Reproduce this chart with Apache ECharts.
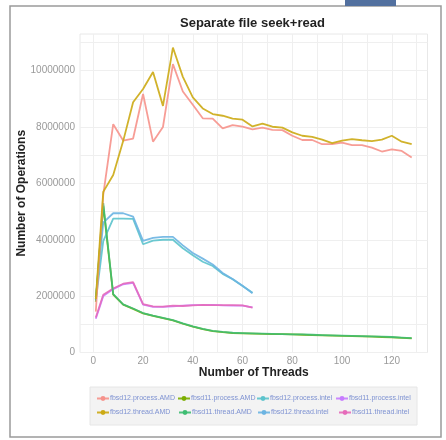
<!DOCTYPE html>
<html>
<head>
<meta charset="utf-8">
<script src="https://cdn.jsdelivr.net/npm/echarts@6/dist/echarts.min.js"></script>
<style>
html, body { margin: 0; padding: 0; background: #ffffff; }
#chart { width: 446px; height: 440px; }
</style>
</head>
<body>
<div id="chart"></div>
<script>
// Thread counts measured
const threadsAMD = [1, 4, 8, 12, 16, 20, 24, 28, 32, 36, 40, 44, 48, 52, 56, 60, 64,
  68, 72, 76, 80, 84, 88, 92, 96, 100, 104, 108, 112, 116, 120, 124, 128];
const threadsIntel = [1, 4, 8, 12, 16, 20, 24, 28, 32, 36, 40, 44, 48, 52, 56, 60, 64];

// Operations per configuration
const fbsd12ProcessAMD = [1450000, 5600000, 8100000, 7520000, 7590000, 9170000, 7480000, 8000000,
  10230000, 9260000, 8790000, 8310000, 8300000, 7950000, 8070000, 8010000, 7920000,
  7980000, 7900000, 7890000, 7690000, 7540000, 7540000, 7390000, 7390000, 7450000,
  7360000, 7360000, 7270000, 7130000, 7210000, 7150000, 6920000];
const fbsd11ProcessAMD = [1800000, 5200000, 2050000, 1700000, 1550000, 1390000, 1300000, 1220000,
  1140000, 1020000, 920000, 830000, 760000, 720000, 690000, 680000, 670000,
  660000, 650000, 650000, 640000, 630000, 620000, 610000, 600000, 590000,
  580000, 570000, 560000, 550000, 540000, 520000, 500000];
const fbsd12ProcessIntel = [1850000, 3950000, 4750000, 4750000, 4740000, 3840000, 3970000, 4000000,
  4000000, 3700000, 3450000, 3220000, 3070000, 2790000, 2600000, 2360000, 2120000];
const fbsd11ProcessIntel = [1200000, 2000000, 2250000, 2420000, 2470000, 1700000, 1620000, 1620000,
  1640000, 1660000, 1680000, 1680000, 1690000, 1670000, 1660000, 1660000, 1600000];
const fbsd12ThreadAMD = [1900000, 5700000, 6300000, 7500000, 8880000, 9350000, 9950000, 8750000,
  10820000, 9780000, 9050000, 8660000, 8460000, 8400000, 8300000, 8260000, 8020000,
  8120000, 8010000, 7980000, 7810000, 7690000, 7650000, 7550000, 7430000, 7520000,
  7570000, 7530000, 7500000, 7550000, 7690000, 7480000, 7390000];
const fbsd11ThreadAMD = [1850000, 5300000, 2070000, 1710000, 1560000, 1400000, 1310000, 1230000,
  1150000, 1030000, 930000, 840000, 770000, 730000, 700000, 690000, 680000,
  670000, 660000, 650000, 640000, 640000, 630000, 620000, 610000, 600000,
  590000, 580000, 570000, 560000, 550000, 530000, 510000];
const fbsd12ThreadIntel = [1900000, 4610000, 4940000, 4940000, 4820000, 3960000, 4070000, 4100000,
  4100000, 3800000, 3530000, 3330000, 3120000, 2820000, 2610000, 2370000, 2100000];
const fbsd11ThreadIntel = [1240000, 2050000, 2270000, 2440000, 2500000, 1720000, 1640000, 1630000,
  1660000, 1650000, 1670000, 1690000, 1680000, 1680000, 1680000, 1670000, 1590000];

// Axis ticks
const xTickLabels = [0, 20, 40, 60, 80, 100, 120];
const xGridValues = [0, 10, 20, 30, 40, 50, 60, 70, 80, 90, 100, 110, 120, 130];
const yTickLabels = [0, 2000000, 4000000, 6000000, 8000000, 10000000];
const yGridValues = [0, 1000000, 2000000, 3000000, 4000000, 5000000, 6000000,
  7000000, 8000000, 9000000, 10000000, 11000000];

const seriesDefs = [
  { name: 'fbsd11.process.AMD', color: '#7CAE00', x: threadsAMD, y: fbsd11ProcessAMD },
  { name: 'fbsd11.process.intel', color: '#C77CFF', x: threadsIntel, y: fbsd11ProcessIntel },
  { name: 'fbsd12.process.intel', color: '#5cc3cc', x: threadsIntel, y: fbsd12ProcessIntel },
  { name: 'fbsd12.thread.intel', color: '#6cb4e2', x: threadsIntel, y: fbsd12ThreadIntel },
  { name: 'fbsd11.thread.intel', color: '#e66bba', x: threadsIntel, y: fbsd11ThreadIntel },
  { name: 'fbsd11.thread.AMD', color: '#3ebd72', x: threadsAMD, y: fbsd11ThreadAMD },
  { name: 'fbsd12.process.AMD', color: '#f6928b', x: threadsAMD, y: fbsd12ProcessAMD },
  { name: 'fbsd12.thread.AMD', color: '#ccaa14', x: threadsAMD, y: fbsd12ThreadAMD }
];

// Legend entries laid out as a 4 x 2 table
const legendRows = [
  ['fbsd12.process.AMD', 'fbsd11.process.AMD', 'fbsd12.process.intel', 'fbsd11.process.intel'],
  ['fbsd12.thread.AMD', 'fbsd11.thread.AMD', 'fbsd12.thread.intel', 'fbsd11.thread.intel']
];
const legendCols = [[96, 177, 256, 335], [96, 178, 257, 338]];
const legendTops = [395, 409];

const fontFamily = 'Liberation Sans, Arial, sans-serif';

const legends = [];
legendRows.forEach((row, r) => {
  row.forEach((name, c) => {
    legends.push({
      data: [name],
      left: legendCols[r][c],
      top: legendTops[r],
      padding: 0,
      itemWidth: 12,
      itemHeight: 6,
      itemGap: 0,
      textStyle: {
        fontSize: 7, color: '#7e92d2', padding: [0, 0, 0, -4],
        fontFamily: fontFamily
      }
    });
  });
});

const chart = echarts.init(document.getElementById('chart'), null, { renderer: 'canvas' });

chart.setOption({
  backgroundColor: '#ffffff',
  animation: false,
  title: {
    text: 'Separate file seek+read',
    left: 180,
    top: 17,
    padding: 0,
    textStyle: { fontSize: 13, fontWeight: 'bold', color: '#222222', fontFamily: fontFamily }
  },
  graphic: [
    { type: 'rect', shape: { x: 10, y: 6, width: 431, height: 431 }, style: { fill: 'none', stroke: '#9a9a9a', lineWidth: 1.5 }, z: -10 },
    { type: 'rect', shape: { x: 345, y: 0, width: 51, height: 6 }, style: { fill: '#52709f' } },
    { type: 'rect', shape: { x: 90, y: 387, width: 327, height: 38 }, style: { fill: '#f3f3f3', stroke: '#e6e6e6', lineWidth: 1 }, z: -5 }
  ],
  legend: legends,
  grid: {
    left: 80, right: 18.5, top: 34, bottom: 87.5,
    show: true, borderColor: '#e8e8e8', borderWidth: 1, backgroundColor: '#ffffff'
  },
  xAxis: {
    type: 'value',
    min: -5.35,
    max: 134.35,
    name: 'Number of Threads',
    nameLocation: 'middle',
    nameGap: 14,
    nameMoveOverlap: false,
    nameTextStyle: { fontSize: 12, fontWeight: 'bold', color: '#222222', fontFamily: fontFamily },
    axisLine: { show: false },
    axisTick: { show: false, customValues: xGridValues },
    axisLabel: {
      customValues: xTickLabels, fontSize: 10, color: '#9a9a9a', margin: 4, fontFamily: fontFamily,
      formatter: v => String(v)
    },
    splitLine: { show: true, lineStyle: { color: '#efefef', width: 1 } }
  },
  yAxis: {
    type: 'value',
    min: 0,
    max: 11300000,
    name: 'Number of Operations',
    nameLocation: 'middle',
    nameGap: 52,
    nameMoveOverlap: false,
    nameTextStyle: { fontSize: 12, fontWeight: 'bold', color: '#222222', fontFamily: fontFamily },
    axisLine: { show: false },
    axisTick: { show: false, customValues: yGridValues },
    axisLabel: {
      customValues: yTickLabels, fontSize: 10, color: '#9a9a9a', margin: 5, fontFamily: fontFamily,
      formatter: v => String(v)
    },
    splitLine: { show: true, lineStyle: { color: '#efefef', width: 1 } }
  },
  series: seriesDefs.map(d => ({
    name: d.name,
    type: 'line',
    data: d.x.map((t, i) => [t, d.y[i]]),
    symbol: 'circle',
    symbolSize: 5,
    showSymbol: false,
    color: d.color,
    lineStyle: { width: 1.8, color: d.color, opacity: 0.9 },
    emphasis: { disabled: true }
  }))
});
</script>
</body>
</html>
